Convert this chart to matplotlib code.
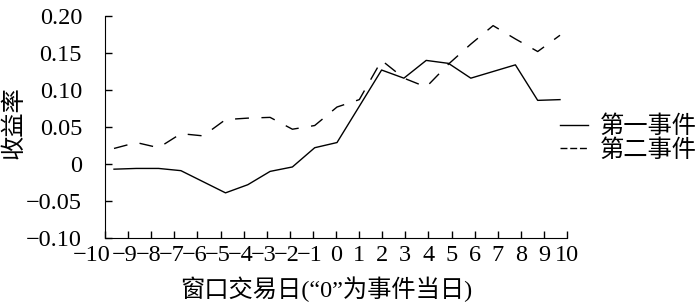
import numpy as np
import matplotlib
matplotlib.use("Agg")
import matplotlib.pyplot as plt
import matplotlib.transforms as mtransforms
from matplotlib.lines import Line2D

plt.rcParams['font.family'] = ['Liberation Serif', 'Noto Sans CJK SC']
plt.rcParams['axes.unicode_minus'] = True

# Data
days = list(range(-10, 11))
event1 = [-0.007, -0.006, -0.006, -0.009, -0.024, -0.039, -0.028, -0.010, -0.004, 0.022, 0.029,
          0.078, 0.127, 0.116, 0.140, 0.136, 0.116, 0.125, 0.134, 0.086, 0.087]
event2 = [0.021, 0.029, 0.022, 0.041, 0.038, 0.060, 0.062, 0.063, 0.047, 0.052, 0.077,
          0.087, 0.140, 0.116, 0.104, 0.135, 0.162, 0.187, 0.169, 0.152, 0.174]
labels = ["第一事件", "第二事件"]
y_ticks = [-0.10, -0.05, 0, 0.05, 0.10, 0.15, 0.20]
y_ticklabels = ["\u22120.10", "\u22120.05", "0", "0.05", "0.10", "0.15", "0.20"]

fs = 17.5

fig = plt.figure(figsize=(7, 3.05), dpi=100)
ax = fig.add_axes([0.15, 0.2197, 0.66, 0.7278])

ax.plot(days, event1, color="black", lw=1.0)
ax.plot(days, event2, color="black", lw=1.0, linestyle=(0, (10, 9)))

# ticks are spread a little wider than the plotted points, as in the original
x0, x1 = -10.404, 10.314
ax.set_xlim(x0, x1)
ax.set_xticks(np.linspace(x0, x1, 21))
ax.set_xticklabels([str(d).replace("-", "\u2212") for d in days])
ax.set_ylim(-0.10, 0.20)
ax.set_yticks(y_ticks)
ax.set_yticklabels(y_ticklabels)

for side in ["top", "right"]:
    ax.spines[side].set_visible(False)

ax.tick_params(axis="y", direction="in", length=5, width=1.0, pad=16.5, labelsize=fs)
ax.tick_params(axis="x", direction="in", length=5, width=1.0, pad=5, labelsize=fs)

# negative labels sit a bit to the left, "-10" most of all
for d, lab in zip(days, ax.get_xticklabels()):
    if d < 0:
        dx = -13 if d == -10 else -3
        lab.set_transform(lab.get_transform() +
                          mtransforms.ScaledTranslation(dx / 100, 0, fig.dpi_scale_trans))

ax.set_xlabel("窗口交易日(“0”为事件当日)", fontsize=fs)
ax.xaxis.set_label_coords(0.478, -0.175)
ax.set_ylabel("收益率", fontsize=fs)
ax.yaxis.set_label_coords(-0.173, 0.52)

handles = [Line2D([], [], color="black", lw=1.0),
           Line2D([], [], color="black", lw=1.0, linestyle=(0, (5, 2)))]
fig.legend(handles, labels, loc="center left", bbox_to_anchor=(0.80, 0.545),
           frameon=False, fontsize=fs, handlelength=1.15, handletextpad=0.5,
           labelspacing=0.05, borderpad=0, borderaxespad=0)

fig.savefig("out.png", dpi=100)
